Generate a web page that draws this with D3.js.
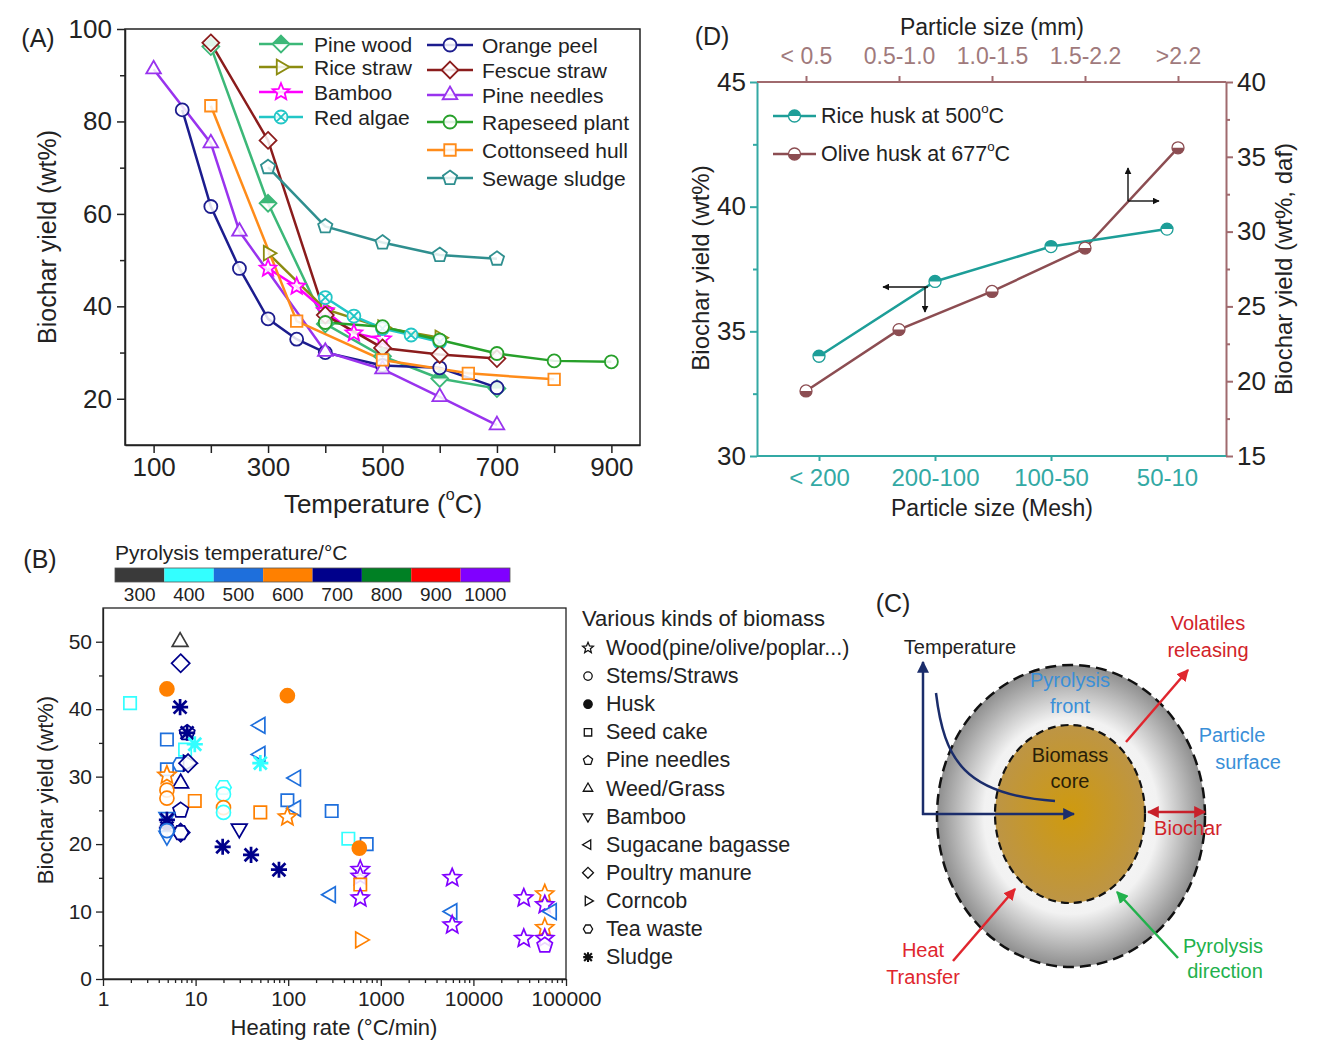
<!DOCTYPE html>
<html>
<head>
<meta charset="utf-8">
<script src="https://cdn.jsdelivr.net/npm/d3@7"></script>
<style>
  body { margin: 0; background: #fff; }
  svg text { font-family: "Liberation Sans", Arial, Helvetica, sans-serif; }
</style>
</head>
<body>
<div id="fig"></div>
<script>
// ---------- panel A : yield vs temperature ----------
const aNames = ['Pine wood', 'Rice straw', 'Bamboo', 'Red algae',
                'Orange peel', 'Fescue straw', 'Pine needles', 'Rapeseed plant', 'Cottonseed hull', 'Sewage sludge'];
const aValues = [
  [[200, 96.2], [300, 62.3], [400, 36.2], [500, 29.2], [600, 24.4], [700, 22.2]],
  [[300, 51.5], [400, 39.4], [500, 35.4], [600, 33.2]],
  [[300, 48.2], [350, 44.3], [400, 39.0], [450, 34.2], [500, 32.9]],
  [[400, 41.9], [450, 37.9], [500, 35.2], [550, 33.8], [600, 32.3]],
  [[150, 82.5], [200, 61.6], [250, 48.2], [300, 37.3], [350, 32.9], [400, 30.0], [500, 27.2], [600, 26.7], [700, 22.4]],
  [[200, 97.0], [300, 75.9], [400, 38.1], [500, 31.0], [600, 29.6], [700, 28.7]],
  [[100, 91.3], [200, 75.3], [250, 56.2], [400, 30.2], [500, 26.4], [600, 20.4], [700, 14.3]],
  [[400, 36.5], [500, 35.6], [600, 32.7], [700, 29.8], [800, 28.2], [900, 28.0]],
  [[200, 83.4], [350, 36.8], [500, 28.4], [650, 25.5], [800, 24.2]],
  [[300, 70.1], [400, 57.3], [500, 53.8], [600, 51.1], [700, 50.3]]
];
const aXTicks = [100, 200, 300, 400, 500, 600, 700, 800, 900];
const aYTicks = [20, 40, 60, 80, 100];
const aYMinor = [30, 50, 70, 90];

// ---------- panel B : yield vs heating rate ----------
const bKinds = ['wood', 'stems', 'husk', 'seed', 'pine', 'weed', 'bamboo', 'bagasse', 'manure', 'corncob', 'tea', 'sludge'];
const bKindNames = ['Wood(pine/olive/poplar...)', 'Stems/Straws', 'Husk', 'Seed cake', 'Pine needles', 'Weed/Grass',
                    'Bamboo', 'Sugacane bagasse', 'Poultry manure', 'Corncob', 'Tea waste', 'Sludge'];
const cbTemps = [300, 400, 500, 600, 700, 800, 900, 1000];
// [heating rate °C/min, yield wt%, pyrolysis temperature °C, biomass kind]
const bPoints = [
  [6.8, 50.0, 300, 'weed'], [6.9, 46.8, 700, 'manure'], [4.9, 43.0, 600, 'husk'], [1.96, 40.9, 400, 'seed'],
  [6.8, 40.3, 700, 'sludge'], [8.1, 36.5, 700, 'pine'], [8.1, 36.5, 700, 'sludge'], [4.9, 35.5, 500, 'seed'],
  [7.7, 34.0, 400, 'seed'], [9.8, 34.8, 400, 'sludge'], [6.8, 31.8, 500, 'tea'], [8.3, 32.0, 700, 'corncob'],
  [8.3, 32.0, 700, 'manure'], [4.9, 31.1, 500, 'seed'], [4.9, 30.2, 600, 'wood'], [6.9, 29.0, 700, 'weed'],
  [4.9, 28.0, 600, 'stems'], [4.9, 26.8, 600, 'stems'], [9.8, 26.4, 600, 'seed'], [20, 28.4, 400, 'tea'],
  [20, 27.4, 400, 'stems'], [20, 25.4, 600, 'stems'], [20, 24.7, 400, 'stems'], [50, 24.7, 600, 'seed'],
  [50, 37.6, 500, 'bagasse'], [50, 33.3, 500, 'bagasse'], [50, 32.0, 400, 'sludge'], [98, 42.0, 600, 'husk'],
  [121, 29.8, 500, 'bagasse'], [98, 26.5, 500, 'seed'], [121, 25.3, 500, 'bagasse'], [98, 24.0, 600, 'wood'],
  [6.9, 25.0, 700, 'pine'], [4.9, 24.0, 500, 'bamboo'], [4.9, 23.6, 700, 'sludge'], [4.9, 22.4, 700, 'sludge'],
  [6.9, 21.7, 700, 'manure'], [6.9, 21.7, 700, 'tea'], [4.9, 21.2, 500, 'bamboo'], [4.9, 22.0, 500, 'stems'],
  [29.6, 22.3, 700, 'bamboo'], [19.6, 19.6, 700, 'sludge'], [39.7, 18.4, 700, 'sludge'], [79.5, 16.2, 700, 'sludge'],
  [295, 24.9, 500, 'seed'], [446, 20.8, 400, 'seed'], [704, 20.0, 500, 'seed'], [586, 19.4, 600, 'husk'],
  [600, 16.2, 1000, 'wood'], [600, 15.2, 1000, 'wood'], [600, 14.0, 600, 'seed'], [600, 12.0, 1000, 'wood'],
  [288, 12.5, 500, 'bagasse'], [600, 5.8, 600, 'corncob'], [5900, 15.0, 1000, 'wood'], [5900, 10.0, 500, 'bagasse'],
  [5900, 8.0, 1000, 'wood'], [35000, 12.0, 1000, 'wood'], [35000, 6.0, 1000, 'wood'], [59000, 12.6, 600, 'wood'],
  [59000, 11.0, 1000, 'wood'], [70000, 10.0, 500, 'bagasse'], [59000, 7.6, 600, 'wood'], [59000, 6.0, 1000, 'wood'],
  [59000, 5.0, 1000, 'pine']
];
const bXTicks = [1, 10, 100, 1000, 10000, 100000];
const bYTicks = [0, 10, 20, 30, 40, 50];
const bYMinor = [5, 15, 25, 35, 45];

// ---------- panel D : particle size ----------
const dMesh = ['< 200', '200-100', '100-50', '50-10'];
const dMm = ['< 0.5', '0.5-1.0', '1.0-1.5', '1.5-2.2', '>2.2'];
const dRiceHusk = [34.0, 37.0, 38.4, 39.1];     // left axis, mesh
const dOliveHusk = [19.35, 23.45, 26.0, 28.9, 35.6]; // right axis, mm
const dLeftTicks = [30, 35, 40, 45];
const dRightTicks = [15, 20, 25, 30, 35, 40];

// ---------- styles ----------
const aColors = ['#3cb878', '#8c8c10', '#ff00ff', '#22c6c6', '#1c1c8e', '#8b1c1c', '#9933ee', '#27a02a', '#ff8c1a', '#2f8f8f'];
const aMarkers = ['halfDiamond', 'triRight', 'star', 'circleX', 'circle', 'diamond', 'triUp', 'circle', 'square', 'pentagon'];
const cbColors = ['#3a3a3a', '#33ffff', '#1e6fdc', '#ff8000', '#00008b', '#008024', '#ff0000', '#8000ff'];
const kindSymbol = { wood: 'star', stems: 'circle', husk: 'ball', seed: 'square', pine: 'pentagon', weed: 'triUp',
  bamboo: 'triDown', bagasse: 'triLeft', manure: 'diamond', corncob: 'triRight', tea: 'hexagon', sludge: 'asterisk' };
const teal = '#33a9a4', tealLine = '#1d9e98', brown = '#a06a6e', brownLine = '#8c4d52';

const svg = d3.select('#fig').append('svg')
  .attr('width', 1322).attr('height', 1048).style('display', 'block');
svg.append('rect').attr('width', 1322).attr('height', 1048).attr('fill', '#fff');
const defs = svg.append('defs');

// marker shapes
function poly(n, r, rot) {
  const pts = d3.range(n).map(i => {
    const a = rot + i * 2 * Math.PI / n;
    return [r * Math.sin(a), -r * Math.cos(a)];
  });
  return 'M' + pts.map(p => p[0].toFixed(2) + ',' + p[1].toFixed(2)).join('L') + 'Z';
}
function starPath(r) {
  const pts = d3.range(10).map(i => {
    const a = i * Math.PI / 5, rr = i % 2 ? r * 0.45 : r;
    return [rr * Math.sin(a), -rr * Math.cos(a)];
  });
  return 'M' + pts.map(p => p[0].toFixed(2) + ',' + p[1].toFixed(2)).join('L') + 'Z';
}
function circ(r) {
  return `M${r},0A${r},${r} 0 1,1 ${-r},0A${r},${r} 0 1,1 ${r},0Z`;
}
function symPath(kind, r) {
  switch (kind) {
    case 'circle': case 'ball': return circ(r);
    case 'square': return poly(4, r * 1.25, Math.PI / 4);
    case 'diamond': case 'halfDiamond': return poly(4, r * 1.3, 0);
    case 'triUp': return poly(3, r * 1.3, 0);
    case 'triDown': return poly(3, r * 1.3, Math.PI);
    case 'triLeft': return poly(3, r * 1.3, -Math.PI / 2);
    case 'triRight': return poly(3, r * 1.3, Math.PI / 2);
    case 'pentagon': return poly(5, r * 1.15, 0);
    case 'hexagon': return poly(6, r * 1.1, Math.PI / 6);
    case 'star': return starPath(r * 1.35);
    case 'circleX': {
      const k = r * 0.7;
      return circ(r) + `M${-k},${-k}L${k},${k}M${-k},${k}L${k},${-k}`;
    }
    case 'asterisk': {
      const k = r * 0.8;
      return `M0,${-r}L0,${r}M${-r},0L${r},0M${-k},${-k}L${k},${k}M${-k},${k}L${k},${-k}`;
    }
  }
}
function drawMarker(g, kind, x, y, r, color, sw) {
  const filled = kind === 'ball';
  const ast = kind === 'asterisk';
  g.append('path')
    .attr('d', symPath(kind, ast ? r * 1.15 : r))
    .attr('transform', `translate(${x},${y})`)
    .attr('fill', filled ? color : (ast ? 'none' : '#fff'))
    .attr('fill-opacity', filled ? 1 : 0.85)
    .attr('stroke', color)
    .attr('stroke-width', ast ? sw * 1.6 : sw);
  if (kind === 'halfDiamond') {
    const s = r * 1.3;
    g.append('path').attr('d', `M${-s},0L0,${-s}L${s},0Z`)
      .attr('transform', `translate(${x},${y})`).attr('fill', color);
  }
}

function styleAxis(g, size, textColor, lineColor, width) {
  g.selectAll('text').attr('font-size', size).attr('fill', textColor);
  g.selectAll('line').attr('stroke', lineColor).attr('stroke-width', width);
  g.selectAll('.domain').attr('stroke', lineColor).attr('stroke-width', width);
}
function text(g, x, y, str, size, color, anchor) {
  return g.append('text').attr('x', x).attr('y', y)
    .attr('text-anchor', anchor || 'middle').attr('dominant-baseline', 'central')
    .attr('font-size', size).attr('fill', color || '#222').text(str);
}
function degText(g, x, y, before, after, size, color, anchor, rotate) {
  const t = g.append('text').attr('x', x).attr('y', y)
    .attr('text-anchor', anchor || 'middle').attr('dominant-baseline', 'central')
    .attr('font-size', size).attr('fill', color || '#222');
  if (rotate) t.attr('transform', `rotate(${rotate},${x},${y})`);
  t.append('tspan').text(before);
  t.append('tspan').attr('font-size', size * 0.62).attr('dy', -size * 0.38).text('o');
  t.append('tspan').attr('dy', size * 0.38).text(after);
  return t;
}

// =================== Panel A ===================
const gA = svg.append('g');
const xA = d3.scaleLinear().domain([50, 950]).range([125, 640]);
const yA = d3.scaleLinear().domain([10, 100]).range([445, 29]);

gA.append('rect').attr('x', 125).attr('y', 29).attr('width', 515).attr('height', 416)
  .attr('fill', 'none').attr('stroke', '#222').attr('stroke-width', 1.5);
const ayAxis = gA.append('g').attr('transform', 'translate(125,0)')
  .call(d3.axisLeft(yA).tickValues(aYTicks).tickSize(8).tickPadding(5).tickSizeOuter(0));
styleAxis(ayAxis, 26, '#222', '#222', 1.5);
const ayMinor = gA.append('g').attr('transform', 'translate(125,0)')
  .call(d3.axisLeft(yA).tickValues(aYMinor).tickSize(5).tickFormat(() => ''));
ayMinor.select('.domain').remove();
styleAxis(ayMinor, 26, '#222', '#222', 1.5);
const axAxis = gA.append('g').attr('transform', 'translate(0,445)')
  .call(d3.axisBottom(xA).tickValues(aXTicks).tickSize(8).tickPadding(5).tickSizeOuter(0)
    .tickFormat(d => d % 200 === 100 ? d : ''));
styleAxis(axAxis, 26, '#222', '#222', 1.5);

const lineA = d3.line().x(d => xA(d[0])).y(d => yA(d[1]));
aValues.forEach((vals, i) => {
  gA.append('path').attr('d', lineA(vals)).attr('fill', 'none')
    .attr('stroke', aColors[i]).attr('stroke-width', 2.5);
});
aValues.forEach((vals, i) => {
  vals.forEach(v => drawMarker(gA, aMarkers[i], xA(v[0]), yA(v[1]), 6.5, aColors[i], 1.8));
});

// legend A
const aLegX = [[259, 303, 314], [427, 473, 482]];
const aLegY = [44, 67, 92, 117, 45, 70, 95, 122, 150, 178];
aNames.forEach((name, i) => {
  const col = i < 4 ? aLegX[0] : aLegX[1];
  const y = aLegY[i];
  gA.append('line').attr('x1', col[0]).attr('x2', col[1]).attr('y1', y).attr('y2', y)
    .attr('stroke', aColors[i]).attr('stroke-width', 2.5);
  drawMarker(gA, aMarkers[i], (col[0] + col[1]) / 2, y, 6.5, aColors[i], 1.8);
  text(gA, col[2], y, name, 21, '#222', 'start');
});

text(gA, 38, 38, '(A)', 25, '#222');
gA.append('text').attr('transform', 'translate(47,237) rotate(-90)')
  .attr('text-anchor', 'middle').attr('dominant-baseline', 'central')
  .attr('font-size', 25).attr('fill', '#222').text('Biochar yield (wt%)');
degText(gA, 383, 504, 'Temperature (', 'C)', 26, '#222');

// =================== Panel B ===================
const gB = svg.append('g');
const xB = d3.scaleLog().domain([1, 100000]).range([103, 566]);
const yB = d3.scaleLinear().domain([0, 55]).range([979, 608]);

gB.append('rect').attr('x', 103).attr('y', 608).attr('width', 463).attr('height', 371)
  .attr('fill', 'none').attr('stroke', '#222').attr('stroke-width', 1.3);
const byAxis = gB.append('g').attr('transform', 'translate(103,0)')
  .call(d3.axisLeft(yB).tickValues(bYTicks).tickSize(7).tickPadding(4).tickSizeOuter(0));
styleAxis(byAxis, 21, '#222', '#222', 1.3);
const byMinor = gB.append('g').attr('transform', 'translate(103,0)')
  .call(d3.axisLeft(yB).tickValues(bYMinor).tickSize(4).tickFormat(() => ''));
byMinor.select('.domain').remove();
styleAxis(byMinor, 21, '#222', '#222', 1.3);
const bxMinorVals = [];
bXTicks.slice(0, -1).forEach(d => { for (let k = 2; k <= 9; k++) bxMinorVals.push(d * k); });
const bxAxis = gB.append('g').attr('transform', 'translate(0,979)')
  .call(d3.axisBottom(xB).tickValues(bXTicks).tickSize(7).tickPadding(5).tickSizeOuter(0).tickFormat(d3.format('d')));
styleAxis(bxAxis, 21, '#222', '#222', 1.3);
const bxMinor = gB.append('g').attr('transform', 'translate(0,979)')
  .call(d3.axisBottom(xB).tickValues(bxMinorVals).tickSize(4).tickFormat(() => ''));
bxMinor.select('.domain').remove();
styleAxis(bxMinor, 21, '#222', '#222', 1.3);

const tempColor = d3.scaleOrdinal().domain(cbTemps).range(cbColors);
bPoints.forEach(p => {
  drawMarker(gB, kindSymbol[p[3]], xB(p[0]), yB(p[1]), 7, tempColor(p[2]), 1.7);
});

// colour bar
const cbX = d3.scaleBand().domain(cbTemps).range([115, 510]).padding(0);
gB.selectAll('.cb').data(cbTemps).enter().append('rect')
  .attr('x', d => cbX(d)).attr('y', 568).attr('width', cbX.bandwidth()).attr('height', 14)
  .attr('fill', d => tempColor(d));
gB.append('rect').attr('x', 115).attr('y', 568).attr('width', 395).attr('height', 14)
  .attr('fill', 'none').attr('stroke', '#555').attr('stroke-width', 0.8);
cbTemps.forEach(t => text(gB, cbX(t) + cbX.bandwidth() / 2, 594, t, 19, '#222'));
text(gB, 115, 552, 'Pyrolysis temperature/°C', 21, '#222', 'start');
text(gB, 40, 559, '(B)', 25, '#222');

gB.append('text').attr('transform', 'translate(45,790) rotate(-90)')
  .attr('text-anchor', 'middle').attr('dominant-baseline', 'central')
  .attr('font-size', 22).attr('fill', '#222').text('Biochar yield (wt%)');
text(gB, 334, 1027, 'Heating rate (°C/min)', 22, '#222');

// legend B
text(gB, 582, 618, 'Various kinds of biomass', 22, '#222', 'start');
bKinds.forEach((k, i) => {
  const y = 648 + i * 28.1;
  drawMarker(gB, kindSymbol[k], 588, y, 4.2, '#111', 1.3);
  text(gB, 606, y, bKindNames[i], 21.5, '#222', 'start');
});

// =================== Panel D ===================
const gD = svg.append('g');
const xMesh = d3.scalePoint().domain(dMesh).range([819, 1167]);
const xMm = d3.scalePoint().domain(dMm).range([806, 1178]);
const yL = d3.scaleLinear().domain([30, 45]).range([456, 82]);
const yR = d3.scaleLinear().domain([15, 40]).range([456, 82]);

const dLeft = gD.append('g').attr('transform', 'translate(757,0)')
  .call(d3.axisLeft(yL).tickValues(dLeftTicks).tickSize(7).tickPadding(4).tickSizeOuter(0));
styleAxis(dLeft, 26, '#222', teal, 2);
const dLeftMinor = gD.append('g').attr('transform', 'translate(757,0)')
  .call(d3.axisLeft(yL).tickValues([32.5, 37.5, 42.5]).tickSize(4).tickFormat(() => ''));
dLeftMinor.select('.domain').remove();
styleAxis(dLeftMinor, 26, '#222', teal, 2);

const dRight = gD.append('g').attr('transform', 'translate(1226,0)')
  .call(d3.axisRight(yR).tickValues(dRightTicks).tickSize(7).tickPadding(4).tickSizeOuter(0));
styleAxis(dRight, 26, '#222', brown, 2);
const dRightMinor = gD.append('g').attr('transform', 'translate(1226,0)')
  .call(d3.axisRight(yR).tickValues([17.5, 22.5, 27.5, 32.5, 37.5]).tickSize(4).tickFormat(() => ''));
dRightMinor.select('.domain').remove();
styleAxis(dRightMinor, 26, '#222', brown, 2);

const dTop = gD.append('g').attr('transform', 'translate(0,82)')
  .call(d3.axisTop(xMm).tickSize(6).tickPadding(12).tickSizeOuter(0));
dTop.select('.domain').attr('d', 'M757,0H1226');
styleAxis(dTop, 23, '#a07a7c', brown, 2);

const dBottom = gD.append('g').attr('transform', 'translate(0,456)')
  .call(d3.axisBottom(xMesh).tickSize(5).tickPadding(8).tickSizeOuter(0));
dBottom.select('.domain').attr('d', 'M757,0H1226');
styleAxis(dBottom, 24, teal, teal, 2);

const riceLine = d3.line().x((d, i) => xMesh(dMesh[i])).y(d => yL(d));
const oliveLine = d3.line().x((d, i) => xMm(dMm[i])).y(d => yR(d));
gD.append('path').attr('d', oliveLine(dOliveHusk)).attr('fill', 'none')
  .attr('stroke', brownLine).attr('stroke-width', 2.5);
gD.append('path').attr('d', riceLine(dRiceHusk)).attr('fill', 'none')
  .attr('stroke', tealLine).attr('stroke-width', 2.5);

function halfCircle(g, x, y, r, color, top) {
  g.append('circle').attr('cx', x).attr('cy', y).attr('r', r)
    .attr('fill', '#fff').attr('stroke', color).attr('stroke-width', 1.3);
  g.append('path').attr('transform', `translate(${x},${y})`)
    .attr('d', `M${-r},0A${r},${r} 0 0,${top ? 1 : 0} ${r},0Z`).attr('fill', color);
}
dRiceHusk.forEach((v, i) => halfCircle(gD, xMesh(dMesh[i]), yL(v), 6, tealLine, true));
dOliveHusk.forEach((v, i) => halfCircle(gD, xMm(dMm[i]), yR(v), 6, brownLine, false));

// legend D
gD.append('line').attr('x1', 773).attr('x2', 816).attr('y1', 116).attr('y2', 116)
  .attr('stroke', tealLine).attr('stroke-width', 2.5);
halfCircle(gD, 794.5, 116, 6, tealLine, true);
degText(gD, 821, 116, 'Rice husk at 500', 'C', 21.5, '#222', 'start');
gD.append('line').attr('x1', 773).attr('x2', 816).attr('y1', 154).attr('y2', 154)
  .attr('stroke', brownLine).attr('stroke-width', 2.5);
halfCircle(gD, 794.5, 154, 6, brownLine, false);
degText(gD, 821, 154, 'Olive husk at 677', 'C', 21.5, '#222', 'start');

// axis-pointer arrows
defs.append('marker').attr('id', 'ahBlack').attr('viewBox', '0 0 10 10')
  .attr('refX', 9).attr('refY', 5).attr('markerWidth', 7).attr('markerHeight', 7)
  .attr('markerUnits', 'userSpaceOnUse').attr('orient', 'auto')
  .append('path').attr('d', 'M0,0L10,5L0,10Z').attr('fill', '#111');
function arrow(g, x1, y1, x2, y2, color, w, id, both) {
  const l = g.append('line').attr('x1', x1).attr('y1', y1).attr('x2', x2).attr('y2', y2)
    .attr('stroke', color).attr('stroke-width', w).attr('marker-end', `url(#${id})`);
  if (both) l.attr('marker-start', `url(#${id}s)`);
  return l;
}
arrow(gD, 928, 287, 883, 287, '#111', 1.4, 'ahBlack');
arrow(gD, 925, 287, 925, 312, '#111', 1.4, 'ahBlack');
arrow(gD, 1128, 201, 1128, 168, '#111', 1.4, 'ahBlack');
arrow(gD, 1128, 201, 1159, 201, '#111', 1.4, 'ahBlack');

text(gD, 712, 36, '(D)', 25, '#222');
text(gD, 992, 27, 'Particle size (mm)', 23, '#222');
text(gD, 992, 508, 'Particle size (Mesh)', 23, '#222');
gD.append('text').attr('transform', 'translate(700,268) rotate(-90)')
  .attr('text-anchor', 'middle').attr('dominant-baseline', 'central')
  .attr('font-size', 24).attr('fill', '#222').text('Biochar yield (wt%)');
gD.append('text').attr('transform', 'translate(1283,269) rotate(-90)')
  .attr('text-anchor', 'middle').attr('dominant-baseline', 'central')
  .attr('font-size', 24).attr('fill', '#222').text('Biochar yield (wt%, daf)');

// =================== Panel C (schematic) ===================
const gC = svg.append('g');
const gOuter = defs.append('radialGradient').attr('id', 'gOuter')
  .attr('cx', '50%').attr('cy', '50%').attr('r', '50%');
gOuter.append('stop').attr('offset', '0%').attr('stop-color', '#ffffff');
gOuter.append('stop').attr('offset', '65%').attr('stop-color', '#f2f2f2');
gOuter.append('stop').attr('offset', '100%').attr('stop-color', '#8e8e8e');
const gInner = defs.append('radialGradient').attr('id', 'gInner')
  .attr('cx', '50%').attr('cy', '50%').attr('r', '50%');
gInner.append('stop').attr('offset', '0%').attr('stop-color', '#cf9a0e');
gInner.append('stop').attr('offset', '100%').attr('stop-color', '#bd9545');

gC.append('ellipse').attr('cx', 1071).attr('cy', 816).attr('rx', 134).attr('ry', 151)
  .attr('fill', 'url(#gOuter)').attr('stroke', '#111').attr('stroke-width', 2.5)
  .attr('stroke-dasharray', '11,6');
gC.append('ellipse').attr('cx', 1070).attr('cy', 814).attr('rx', 75).attr('ry', 89)
  .attr('fill', 'url(#gInner)').attr('stroke', '#111').attr('stroke-width', 2.2)
  .attr('stroke-dasharray', '8,5');

[['ahNavy', '#1b2d6b'], ['ahRed', '#e0262e'], ['ahGreen', '#22b14c'], ['ahDark', '#c8202a']].forEach(([id, c]) => {
  defs.append('marker').attr('id', id).attr('viewBox', '0 0 10 10')
    .attr('refX', 9).attr('refY', 5).attr('markerWidth', 12).attr('markerHeight', 12)
    .attr('markerUnits', 'userSpaceOnUse').attr('orient', 'auto')
    .append('path').attr('d', 'M0,0L10,5L0,10Z').attr('fill', c);
  defs.append('marker').attr('id', id + 's').attr('viewBox', '0 0 10 10')
    .attr('refX', 9).attr('refY', 5).attr('markerWidth', 12).attr('markerHeight', 12)
    .attr('markerUnits', 'userSpaceOnUse').attr('orient', 'auto-start-reverse')
    .append('path').attr('d', 'M0,0L10,5L0,10Z').attr('fill', c);
});

// temperature axes and profile
arrow(gC, 923, 815, 923, 662, '#1b2d6b', 2.5, 'ahNavy');
arrow(gC, 922, 814, 1074, 814, '#1b2d6b', 2.5, 'ahNavy');
gC.append('path').attr('d', 'M936,693C944,760 965,795 1055,801')
  .attr('fill', 'none').attr('stroke', '#1b2d6b').attr('stroke-width', 2.5);

// process arrows
arrow(gC, 1126, 742, 1188, 670, '#e0262e', 2.5, 'ahRed');
arrow(gC, 953, 961, 1015, 889, '#e0262e', 2.5, 'ahRed');
arrow(gC, 1178, 958, 1117, 892, '#22b14c', 2.5, 'ahGreen');
arrow(gC, 1148, 812, 1205, 812, '#c8202a', 2.5, 'ahDark', true);

text(gC, 893, 603, '(C)', 25, '#222');
text(gC, 960, 647, 'Temperature', 20, '#222');
text(gC, 1070, 680, 'Pyrolysis', 20, '#3a8fd8');
text(gC, 1070, 706, 'front', 20, '#3a8fd8');
text(gC, 1070, 755, 'Biomass', 20, '#2a1f08');
text(gC, 1070, 781, 'core', 20, '#2a1f08');
text(gC, 1208, 623, 'Volatiles', 20, '#d2232a');
text(gC, 1208, 650, 'releasing', 20, '#d2232a');
text(gC, 1232, 735, 'Particle', 20, '#3a8fd8');
text(gC, 1248, 762, 'surface', 20, '#3a8fd8');
text(gC, 1188, 828, 'Biochar', 20, '#d2232a');
text(gC, 923, 950, 'Heat', 20, '#e0262e');
text(gC, 923, 977, 'Transfer', 20, '#e0262e');
text(gC, 1223, 946, 'Pyrolysis', 20, '#22b14c');
text(gC, 1225, 971, 'direction', 20, '#22b14c');
</script>
</body>
</html>
